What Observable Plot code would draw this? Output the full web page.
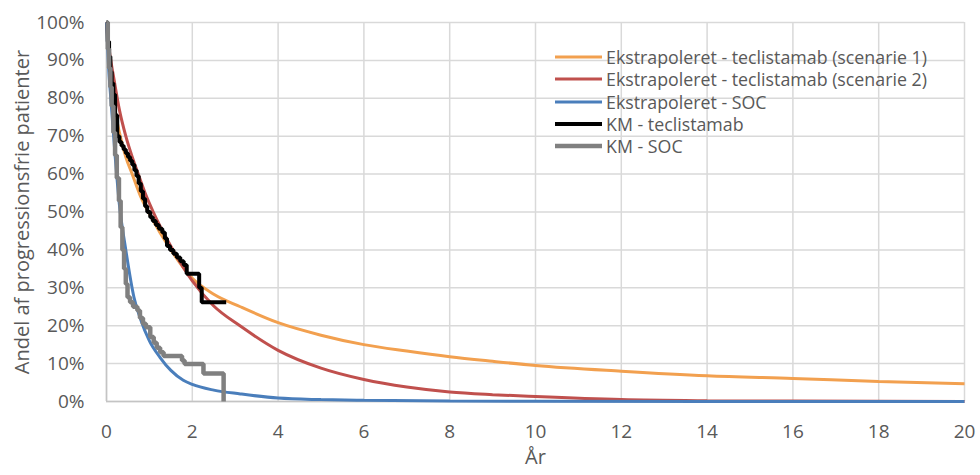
<!DOCTYPE html>
<html>
<head>
<meta charset="utf-8">
<script src="https://cdn.jsdelivr.net/npm/d3@7"></script>
<script src="https://cdn.jsdelivr.net/npm/@observablehq/plot@0.6"></script>
<style>
  html, body { margin: 0; padding: 0; background: #fff; }
  #wrap { position: relative; width: 980px; height: 475px; font-family: "Open Sans", sans-serif; }
  #legend { position: absolute; left: 555px; top: 46px; font-size: 17.8px; color: #595959; }
  .row { display: flex; align-items: center; height: 22.3px; white-space: nowrap; }
  .sw { width: 47px; margin-right: 4px; }
</style>
</head>
<body>
<div id="wrap"><div id="chart"></div><div id="legend"></div></div>
<script>
// ---- data ----
const xTicks = [0, 2, 4, 6, 8, 10, 12, 14, 16, 18, 20];
const yTicks = [0, 0.1, 0.2, 0.3, 0.4, 0.5, 0.6, 0.7, 0.8, 0.9, 1.0];

const seriesNames = [
  "Ekstrapoleret - teclistamab (scenarie 1)",
  "Ekstrapoleret - teclistamab (scenarie 2)",
  "Ekstrapoleret - SOC",
  "KM - teclistamab",
  "KM - SOC"
];

const orangeT = [0, 0.05, 0.1, 0.2, 0.3, 0.45, 0.6, 0.8, 1.0, 1.5, 2.0, 2.5, 3.12, 4, 5, 6, 7, 8, 9, 10, 12, 14, 16, 18, 20];
const orangeS = [1.0, 0.91, 0.86, 0.77, 0.71, 0.645, 0.60, 0.54, 0.495, 0.40, 0.325, 0.283, 0.25, 0.208, 0.175, 0.15, 0.133, 0.118, 0.106, 0.095, 0.080, 0.068, 0.061, 0.053, 0.047];

const redT = [0, 0.05, 0.1, 0.175, 0.3, 0.45, 0.6, 0.74, 0.9, 1.09, 1.5, 2.0, 2.5, 3.12, 4, 5, 6, 7, 8, 9, 10, 12, 14, 16, 20];
const redS = [1.0, 0.94, 0.90, 0.85, 0.77, 0.70, 0.645, 0.60, 0.55, 0.50, 0.41, 0.318, 0.252, 0.199, 0.135, 0.088, 0.058, 0.038, 0.025, 0.018, 0.013, 0.005, 0.002, 0.001, 0.0];

const blueT = [0, 0.05, 0.1, 0.2, 0.3, 0.45, 0.64, 0.8, 1.0, 1.25, 1.5, 1.79, 2.0, 2.5, 3.12, 4, 5, 6, 8, 10, 14, 20];
const blueS = [1.0, 0.88, 0.80, 0.65, 0.52, 0.40, 0.275, 0.215, 0.16, 0.116, 0.082, 0.056, 0.045, 0.03, 0.02, 0.009, 0.005, 0.003, 0.001, 0.0005, 0.0002, 0.0];

const kmTecT = [0, 0.03, 0.06, 0.09, 0.12, 0.16, 0.2, 0.25, 0.3, 0.35, 0.4, 0.45, 0.5, 0.55, 0.6, 0.65, 0.7, 0.75, 0.8, 0.85, 0.9, 0.95, 1.02, 1.08, 1.15, 1.22, 1.3, 1.36, 1.41, 1.48, 1.56, 1.64, 1.72, 1.8, 1.87, 2.16, 2.22, 2.79];
const kmTecS = [1.0, 0.95, 0.91, 0.87, 0.84, 0.81, 0.755, 0.70, 0.685, 0.675, 0.665, 0.655, 0.645, 0.635, 0.625, 0.61, 0.595, 0.575, 0.555, 0.535, 0.515, 0.50, 0.486, 0.476, 0.466, 0.456, 0.446, 0.43, 0.41, 0.40, 0.39, 0.38, 0.37, 0.36, 0.337, 0.30, 0.262, 0.262];

const kmSocT = [0, 0.03, 0.06, 0.09, 0.12, 0.16, 0.2, 0.24, 0.29, 0.33, 0.37, 0.41, 0.45, 0.49, 0.55, 0.62, 0.72, 0.78, 0.85, 0.92, 1.02, 1.1, 1.17, 1.25, 1.33, 1.76, 1.82, 2.26, 2.73];
const kmSocS = [1.0, 0.93, 0.88, 0.83, 0.78, 0.71, 0.65, 0.59, 0.53, 0.46, 0.40, 0.35, 0.31, 0.275, 0.262, 0.25, 0.24, 0.22, 0.205, 0.196, 0.17, 0.155, 0.142, 0.13, 0.12, 0.108, 0.099, 0.074, 0.0];

// ---- styles ----
const colors = ["#F2A04F", "#C0504D", "#4A7EBB", "#000000", "#808080"];
const widths = [3, 3, 3, 4, 4.5];
const curves = ["monotone-x", "monotone-x", "monotone-x", "step-after", "step-after"];

const toRows = (T, S) => T.map((t, i) => ({t, s: S[i]}));
const allData = [
  toRows(orangeT, orangeS),
  toRows(redT, redS),
  toRows(blueT, blueS),
  toRows(kmTecT, kmTecS),
  toRows(kmSocT, kmSocS)
];

const textColor = "#595959";

const chart = Plot.plot({
  width: 980,
  height: 475,
  marginLeft: 106,
  marginRight: 16,
  marginTop: 22,
  marginBottom: 74,
  style: { fontFamily: "'Open Sans', sans-serif", color: textColor, background: "#fff" },
  x: { domain: [0, 20] },
  y: { domain: [0, 1] },
  marks: [
    Plot.gridX(xTicks, { stroke: "#D9D9D9", strokeOpacity: 1, strokeWidth: 1.5 }),
    Plot.gridY(yTicks, { stroke: "#D9D9D9", strokeOpacity: 1, strokeWidth: 1.5 }),
    Plot.ruleX([0], { stroke: "#C4C4C4", strokeWidth: 1.5 }),
    Plot.ruleY([0], { stroke: "#C4C4C4", strokeWidth: 1.5 }),
    Plot.axisX(xTicks, {
      tickSize: 0, tickPadding: 23, fontSize: 19, fill: textColor,
      label: "År", labelAnchor: "center", labelArrow: "none", labelOffset: 62
    }),
    Plot.axisY(yTicks, {
      tickSize: 0, tickPadding: 22, fontSize: 19, fill: textColor,
      tickFormat: d => Math.round(d * 100) + "%",
      label: "Andel af progressionsfrie patienter", labelAnchor: "center", labelArrow: "none", labelOffset: 92
    }),
    ...allData.map((rows, i) => Plot.line(rows, {
      x: "t", y: "s", stroke: colors[i], strokeWidth: widths[i], curve: curves[i],
      strokeLinejoin: "miter", strokeLinecap: "butt"
    }))
  ]
});

// axis title font size
chart.querySelectorAll("g[aria-label='x-axis label'] text, g[aria-label='y-axis label'] text").forEach(t => {
  t.setAttribute("font-size", "20");
  t.style.fontSize = "20px";
  t.setAttribute("fill", textColor);
});

document.getElementById("chart").appendChild(chart);

// legend
const legend = document.getElementById("legend");
seriesNames.forEach((name, i) => {
  const row = document.createElement("div");
  row.className = "row";
  row.innerHTML = `<svg class="sw" width="47" height="8"><line x1="0" x2="47" y1="4" y2="4" stroke="${colors[i]}" stroke-width="${widths[i]}"/></svg><span>${name}</span>`;
  legend.appendChild(row);
});
</script>
</body>
</html>
